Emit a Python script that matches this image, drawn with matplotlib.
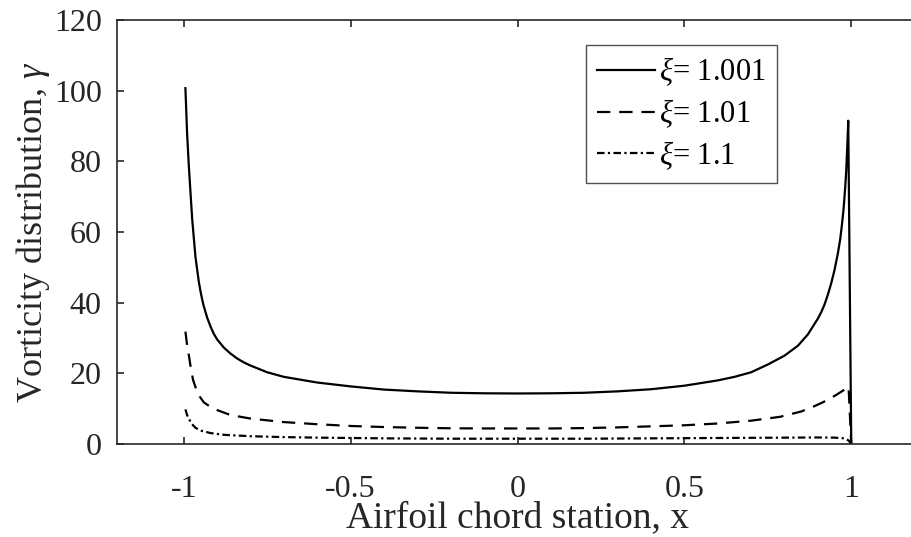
import matplotlib
matplotlib.use("Agg")
import matplotlib.pyplot as plt

plt.rcParams['font.family'] = ['Liberation Serif', 'DejaVu Serif']
plt.rcParams['mathtext.fontset'] = 'custom'
plt.rcParams['mathtext.rm'] = 'Liberation Serif'
plt.rcParams['mathtext.it'] = 'Liberation Serif:italic'

# values
x_1001 = [-0.995, -0.99, -0.985, -0.98, -0.975, -0.97, -0.965, -0.96, -0.955, -0.95,
          -0.945, -0.94, -0.93, -0.92, -0.91, -0.9, -0.88, -0.86, -0.84, -0.82, -0.8,
          -0.75, -0.7, -0.6, -0.5, -0.4, -0.3, -0.2, -0.1,
          0.0, 0.1, 0.2, 0.3, 0.4, 0.5, 0.6, 0.65, 0.7, 0.75, 0.8, 0.84, 0.87, 0.9,
          0.91, 0.92, 0.93, 0.94, 0.95, 0.96, 0.967, 0.972, 0.977, 0.982, 0.985, 0.988,
          0.991, 1.0]
g_1001 = [100.7, 88, 79, 71.5, 64, 58.5, 53, 49.5, 46, 43.3,
          41, 39, 35.8, 33.3, 31.2, 29.6, 27.3, 25.6, 24.2, 23.1, 22.2,
          20.3, 19.0, 17.4, 16.3, 15.4, 14.9, 14.5, 14.35,
          14.3, 14.35, 14.5, 14.9, 15.5, 16.5, 18.0, 19.0, 20.3, 22.5, 25.0, 27.8, 31.0, 35.5,
          37.3, 39.5, 42.3, 45.5, 49.3, 54.0, 58.0, 62.0, 66.5, 72.8, 77.5, 84.0,
          91.5, 0.0]

x_101 = [-0.995, -0.99, -0.984, -0.978, -0.972, -0.962, -0.952, -0.94, -0.92, -0.9, -0.86,
         -0.8, -0.75, -0.7, -0.6, -0.5, -0.4, -0.3, -0.2, -0.1, 0.0, 0.1, 0.2, 0.3,
         0.4, 0.5, 0.6, 0.7, 0.787, 0.85, 0.887, 0.915, 0.937, 0.955, 0.972, 0.992, 1.0]
g_101 = [31.8, 28, 24.7, 21, 18.1, 15.3, 13.4, 11.8, 10.5, 9.6, 8.2,
         7.2, 6.7, 6.2, 5.6, 5.1, 4.8, 4.6, 4.45, 4.4, 4.4, 4.4, 4.5, 4.7,
         5.0, 5.3, 5.8, 6.6, 7.7, 9.2, 10.6, 11.8, 12.9, 13.9, 14.9, 16.2, 0.0]

x_11 = [-0.995, -0.99, -0.984, -0.975, -0.965, -0.95, -0.92, -0.88, -0.8, -0.7,
        -0.6, -0.4, -0.2, 0.0, 0.2, 0.4, 0.6, 0.8, 0.9, 0.95, 0.98, 0.992, 1.0]
g_11 = [9.8, 8.2, 7.0, 5.6, 4.6, 3.8, 3.1, 2.6, 2.2, 1.95,
        1.8, 1.6, 1.5, 1.5, 1.5, 1.6, 1.7, 1.8, 1.85, 1.8, 1.6, 1.0, 0.0]

labels = [r'$\xi$= 1.001', r'$\xi$= 1.01', r'$\xi$= 1.1']
xticks = [-1, -0.5, 0, 0.5, 1]
xticklabels = ['-1', '-0.5', '0', '0.5', '1']
yticks = [0, 20, 40, 60, 80, 100, 120]

fig = plt.figure(figsize=(9.12, 5.37), dpi=100)
ax = fig.add_axes([117 / 912, 93 / 537, 801 / 912, 424 / 537])

ax.plot(x_1001, g_1001, color='black', lw=1.6, label=labels[0])
ax.plot(x_101, g_101, color='black', lw=1.6, ls=(0, (6, 4)), label=labels[1])
ax.plot(x_11, g_11, color='black', lw=1.6, ls=(0, (3.4, 1.5, 1, 1.5)), label=labels[2])

ax.set_xlim(-1.2, 1.2)
ax.set_ylim(0, 120)
ax.set_xticks(xticks)
ax.set_xticklabels(xticklabels)
ax.set_yticks(yticks)

for s in ax.spines.values():
    s.set_color('#262626')
    s.set_linewidth(1.2)
ax.tick_params(direction='in', length=5, width=1.2, color='#262626',
               top=True, right=True, labelsize=23, labelcolor='#262626')
ax.tick_params(axis='x', pad=22)
ax.tick_params(axis='y', pad=11)

ax.set_xlabel('Airfoil chord station, x', fontsize=27, color='#262626', labelpad=-2)
ax.set_ylabel(r'Vorticity distribution, $\gamma$', fontsize=26, color='#262626', labelpad=1)

leg = ax.legend(loc='upper left', bbox_to_anchor=(0.5855, 0.941), borderaxespad=0,
                fontsize=22, frameon=True, fancybox=False, handlelength=1.9,
                handletextpad=0.15, labelspacing=0.3, borderpad=0.35)
leg.get_frame().set_edgecolor('#262626')
leg.get_frame().set_linewidth(1.0)

fig.savefig('out.png', dpi=100)
